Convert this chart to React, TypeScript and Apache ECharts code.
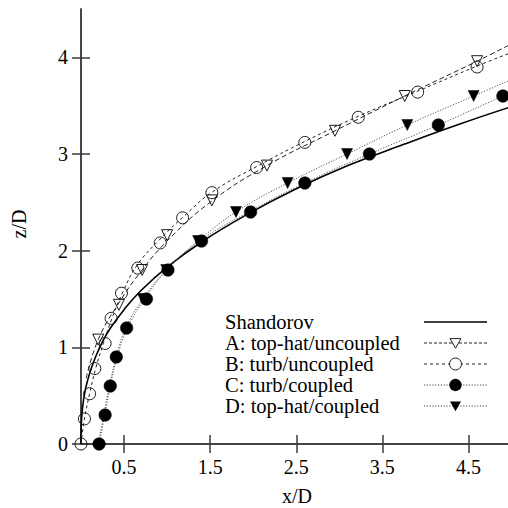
import { useEffect, useRef } from "react";
import * as echarts from "echarts";

// Tick positions
const xTicks = [0.5, 1.5, 2.5, 3.5, 4.5];
const zTicks = [0, 1, 2, 3, 4];

// Shandorov correlation curve
const shandorovX = [0, 0.002, 0.01, 0.03, 0.06, 0.1, 0.16, 0.25, 0.35, 0.5, 0.7, 1.0, 1.4, 1.9, 2.5, 3.1, 3.75, 4.4, 5.0];
const shandorovZ = [0, 0.15, 0.3, 0.46, 0.6, 0.73, 0.88, 1.06, 1.21, 1.39, 1.59, 1.83, 2.09, 2.36, 2.64, 2.88, 3.1, 3.31, 3.49];

// A: top-hat/uncoupled
const aX = [0.2, 0.44, 0.71, 1.0, 1.52, 2.16, 2.95, 3.76, 4.6];
const aZ = [1.08, 1.44, 1.8, 2.16, 2.52, 2.88, 3.24, 3.6, 3.96];
const aFitX = [0.06, 0.2, 0.44, 0.71, 1.0, 1.5, 2.16, 2.95, 3.76, 4.6, 5.0];
const aFitZ = [0.68, 1.08, 1.46, 1.8, 2.1, 2.5, 2.88, 3.24, 3.6, 3.96, 4.14];

// B: turb/uncoupled
const bX = [0, 0.04, 0.1, 0.16, 0.28, 0.35, 0.47, 0.66, 0.92, 1.18, 1.52, 2.04, 2.6, 3.22, 3.91, 4.6];
const bZ = [0, 0.26, 0.52, 0.78, 1.04, 1.3, 1.56, 1.82, 2.08, 2.34, 2.6, 2.86, 3.12, 3.38, 3.64, 3.9];
const bFitX = [0, 0.04, 0.1, 0.17, 0.26, 0.36, 0.49, 0.66, 0.92, 1.2, 1.53, 2.04, 2.6, 3.22, 3.91, 4.6, 5.0];
const bFitZ = [0, 0.26, 0.52, 0.78, 1.04, 1.3, 1.58, 1.86, 2.12, 2.36, 2.61, 2.87, 3.13, 3.39, 3.65, 3.91, 4.05];

// C: turb/coupled
const cX = [0.21, 0.28, 0.34, 0.41, 0.53, 0.76, 1.01, 1.4, 1.97, 2.6, 3.35, 4.15, 4.9];
const cZ = [0, 0.3, 0.6, 0.9, 1.2, 1.5, 1.8, 2.1, 2.4, 2.7, 3.0, 3.3, 3.6];
const cFitX = [0.21, 0.275, 0.34, 0.42, 0.54, 0.74, 1.0, 1.38, 1.95, 2.6, 3.35, 4.15, 4.9, 5.0];
const cFitZ = [0, 0.3, 0.6, 0.9, 1.2, 1.5, 1.8, 2.1, 2.4, 2.7, 3.0, 3.3, 3.6, 3.64];

// D: top-hat/coupled
const dX = [0.72, 0.99, 1.36, 1.8, 2.4, 3.09, 3.79, 4.56];
const dZ = [1.5, 1.8, 2.1, 2.4, 2.7, 3.0, 3.3, 3.6];
const dFitX = [0.2, 0.265, 0.33, 0.41, 0.52, 0.72, 0.99, 1.36, 1.8, 2.4, 3.09, 3.79, 4.56, 5.0];
const dFitZ = [0, 0.3, 0.6, 0.9, 1.2, 1.5, 1.8, 2.1, 2.4, 2.7, 3.0, 3.3, 3.6, 3.77];

const legendLabels = [
  "Shandorov",
  "A: top-hat/uncoupled",
  "B: turb/uncoupled",
  "C: turb/coupled",
  "D: top-hat/coupled",
];

const FONT = "Liberation Serif";
const AXIS_COLOR = "#3a3a3a";

const zip = (xs: number[], zs: number[]) => xs.map((x, i) => [x, zs[i]]);

export default function App() {
  const ref = useRef<HTMLDivElement>(null);

  useEffect(() => {
    if (!ref.current) return;
    const chart = echarts.init(ref.current, undefined, { renderer: "svg" });

    const axisLine = { show: true, lineStyle: { color: AXIS_COLOR, width: 1.5 } };
    const tick = (values: number[]) => ({
      show: true,
      inside: true,
      length: 9,
      customValues: values,
      lineStyle: { color: AXIS_COLOR, width: 1.5 },
    });
    const label = (values: number[]) => ({
      show: true,
      customValues: values,
      fontFamily: FONT,
      fontSize: 20,
      color: "#000",
      margin: 13,
    });

    const fitLine = (name: string, xs: number[], zs: number[], dash: number[] | "solid", width: number, color: string) => ({
      name,
      type: "line",
      data: zip(xs, zs),
      smooth: 0.45,
      showSymbol: false,
      symbol: "none",
      silent: true,
      z: 2,
      lineStyle: { color, width, type: dash },
    });

    const markers = (name: string, xs: number[], zs: number[], symbol: string, size: number, filled: boolean, rotate = 0) => ({
      name,
      type: "scatter",
      data: zip(xs, zs),
      symbol,
      symbolSize: size,
      symbolRotate: rotate,
      z: 3,
      itemStyle: filled
        ? { color: "#000", borderColor: "#000", borderWidth: 0.5, opacity: 1 }
        : { color: "rgba(255,255,255,0)", borderColor: "#1a1a1a", borderWidth: 1, opacity: 1 },
    });

    // legend drawn as graphic elements: label column + sample column
    const lx = 225;
    const rowY = [322, 343, 364, 385, 406];
    const sx1 = 424;
    const sx2 = 487;
    const sxm = (sx1 + sx2) / 2;
    const sampleDash: (number[] | null)[] = [null, [3, 2], [3, 3], [1.2, 1.6], [1.2, 1.6]];
    const sampleWidth = [1.6, 1, 1, 1, 1];
    const sampleColor = ["#000", "#222", "#222", "#444", "#444"];
    const els: any[] = [];
    legendLabels.forEach((t, i) => {
      els.push({
        type: "text",
        x: lx,
        y: rowY[i],
        style: { text: t, font: `20.5px "${FONT}"`, fill: "#000", verticalAlign: "middle", align: "left" },
      });
      els.push({
        type: "line",
        shape: { x1: sx1, y1: rowY[i], x2: sx2, y2: rowY[i] },
        style: { stroke: sampleColor[i], lineWidth: sampleWidth[i], lineDash: sampleDash[i] },
      });
    });
    // legend sample markers
    const tri = (cx: number, cy: number, s: number) => [
      [cx - s, cy - s * 0.8],
      [cx + s, cy - s * 0.8],
      [cx, cy + s * 0.95],
    ];
    els.push({
      type: "polygon",
      shape: { points: tri(sxm, rowY[1], 5.5) },
      style: { fill: "#fff", stroke: "#222", lineWidth: 1 },
    });
    els.push({
      type: "circle",
      shape: { cx: sxm, cy: rowY[2], r: 6 },
      style: { fill: "#fff", stroke: "#222", lineWidth: 1 },
    });
    els.push({
      type: "circle",
      shape: { cx: sxm, cy: rowY[3], r: 6.2 },
      style: { fill: "#000" },
    });
    els.push({
      type: "polygon",
      shape: { points: tri(sxm, rowY[4], 5.5) },
      style: { fill: "#000" },
    });
    // axis titles
    els.push({
      type: "text",
      x: 297,
      y: 496,
      style: { text: "x/D", font: `20px "${FONT}"`, fill: "#000", align: "center", verticalAlign: "middle" },
    });
    els.push({
      type: "text",
      x: 18.5,
      y: 224,
      rotation: Math.PI / 2,
      style: { text: "z/D", font: `20px "${FONT}"`, fill: "#000", align: "center", verticalAlign: "middle" },
    });

    chart.setOption({
      animation: false,
      backgroundColor: "#fff",
      grid: {
        left: 81,
        right: -3.5,
        top: 9,
        bottom: 64,
        containLabel: false,
        outerBoundsMode: "none",
      },
      xAxis: [
        {
          type: "value",
          position: "bottom",
          min: 0,
          max: 5,
          axisLine,
          axisTick: tick(xTicks),
          axisLabel: label(xTicks),
          splitLine: { show: false },
        },
        {
          type: "value",
          position: "top",
          min: 0,
          max: 5,
          axisLine,
          axisTick: tick(xTicks),
          axisLabel: { show: false },
          splitLine: { show: false },
        },
      ],
      yAxis: [
        {
          type: "value",
          position: "left",
          min: 0,
          max: 4.5,
          axisLine,
          axisTick: tick(zTicks),
          axisLabel: label(zTicks),
          splitLine: { show: false },
        },
        {
          type: "value",
          position: "right",
          min: 0,
          max: 4.5,
          axisLine,
          axisTick: tick(zTicks),
          axisLabel: { show: false },
          splitLine: { show: false },
        },
      ],
      series: [
        fitLine("Shandorov", shandorovX, shandorovZ, "solid", 1.6, "#000"),
        fitLine("A fit", aFitX, aFitZ, [5, 3], 1, "#222"),
        fitLine("B fit", bFitX, bFitZ, [3, 3], 1, "#222"),
        fitLine("C fit", cFitX, cFitZ, [1.2, 1.6], 1, "#555"),
        fitLine("D fit", dFitX, dFitZ, [1.2, 1.6], 1, "#555"),
        markers("A: top-hat/uncoupled", aX, aZ, "triangle", 11, false, 180),
        markers("B: turb/uncoupled", bX, bZ, "circle", 12, false),
        markers("C: turb/coupled", cX, cZ, "circle", 12.5, true),
        markers("D: top-hat/coupled", dX, dZ, "triangle", 11, true, 180),
      ],
      graphic: els,
    });

    return () => chart.dispose();
  }, []);

  return (
    <div
      ref={ref}
      style={{ position: "absolute", left: 0, top: 0, width: 508, height: 508, background: "#fff" }}
    />
  );
}
